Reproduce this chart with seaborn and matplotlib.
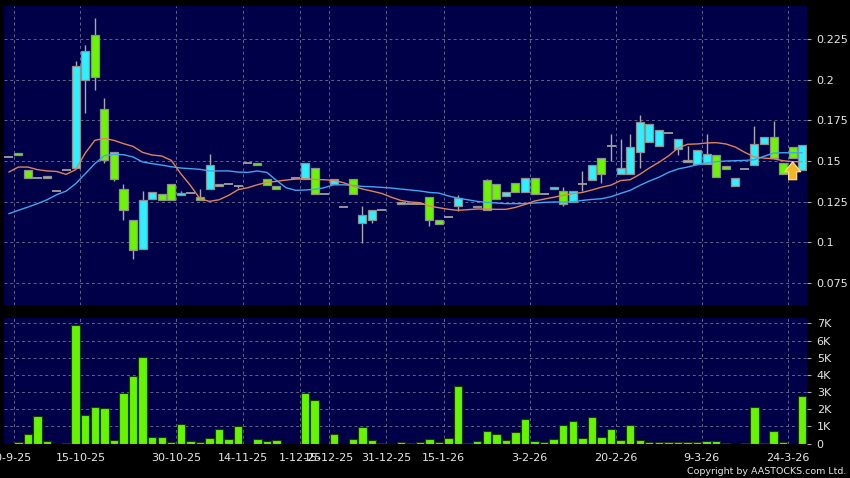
import numpy as np
import pandas as pd
import matplotlib
matplotlib.use("Agg")
import matplotlib.pyplot as plt
import matplotlib.transforms as mtransforms
from matplotlib.patches import Rectangle
import seaborn as sns

sns.set_style("dark")
plt.rcParams["font.family"] = ["DejaVu Sans"]

N = None
# Candles (open, close, high, low); None = no candle
opens = [0.1525, 0.155, 0.1447, 0.1395, 0.1408, 0.1315, 0.1447, 0.1459, 0.2, 0.2275,
         0.1822, 0.1555, 0.1328, 0.1139, 0.0961, 0.1266, 0.1299, 0.136, 0.1293, 0.1303,
         0.1278, 0.133, 0.1344, 0.1361, 0.1344, 0.149, 0.149, 0.1391, 0.1344, N,
         0.1398, 0.1391, 0.1459, 0.1299, 0.1361, 0.1217, 0.1387, 0.1121, 0.1139, 0.1201,
         N, 0.125, 0.1238, 0.1234, 0.1278, 0.1139, 0.1156, 0.1221, N, 0.1225,
         0.1381, 0.136, 0.1287, 0.1367, 0.1311, 0.1397, 0.1299, 0.133, 0.1315, 0.125,
         0.1357, 0.1381, 0.152, 0.159, 0.1422, 0.1422, 0.1553, 0.1619, 0.1594, 0.1675,
         0.1572, 0.1494, 0.148, 0.148, 0.1535, 0.147, 0.1344, 0.1449, 0.1473, 0.1607,
         0.1648, 0.1488, 0.1586, 0.1447]
closes = [0.1525, 0.154, 0.1398, 0.1395, 0.1398, 0.1315, 0.1447, 0.2084, 0.2176, 0.2016,
          0.1504, 0.1391, 0.12, 0.0951, 0.1262, 0.1309, 0.1262, 0.1262, 0.1305, 0.1303,
          0.1258, 0.1477, 0.1361, 0.1361, 0.1344, 0.149, 0.1473, 0.135, 0.1328, N,
          0.1398, 0.149, 0.1299, 0.1299, 0.1387, 0.1217, 0.1299, 0.117, 0.1201, 0.1201,
          N, 0.1238, 0.1238, 0.1234, 0.1139, 0.111, 0.1156, 0.1274, N, 0.1215,
          0.1201, 0.1268, 0.1311, 0.1311, 0.1397, 0.1299, 0.1299, 0.134, 0.1234, 0.1315,
          0.1357, 0.1477, 0.1422, 0.159, 0.1457, 0.1586, 0.1742, 0.1726, 0.1693, 0.1675,
          0.1636, 0.1508, 0.1568, 0.1541, 0.1402, 0.145, 0.1395, 0.1449, 0.1607, 0.1648,
          0.1518, 0.1422, 0.1518, 0.16]
highs = [0.1525, 0.155, 0.1447, 0.1395, 0.1408, 0.1315, 0.1447, 0.2113, 0.2211, 0.2377,
         0.189, 0.1555, 0.136, 0.1139, 0.1315, 0.1309, 0.1299, 0.136, 0.1315, 0.1303,
         0.133, 0.1541, 0.1361, 0.1361, 0.1352, 0.149, 0.149, 0.1391, 0.1344, N,
         0.1398, 0.149, 0.1459, 0.1299, 0.1387, 0.1217, 0.1387, 0.1221, 0.1201, 0.1201,
         N, 0.125, 0.1238, 0.1234, 0.1278, 0.1139, 0.1156, 0.129, N, 0.1225,
         0.139, 0.136, 0.1311, 0.1367, 0.1397, 0.1397, 0.1299, 0.134, 0.134, 0.1315,
         0.144, 0.1477, 0.152, 0.1668, 0.1637, 0.1668, 0.1783, 0.1726, 0.1693, 0.1675,
         0.1636, 0.159, 0.1568, 0.1664, 0.1535, 0.147, 0.1395, 0.1449, 0.1715, 0.1648,
         0.1746, 0.1488, 0.1586, 0.16]
lows = [0.1525, 0.154, 0.1398, 0.1395, 0.1398, 0.1315, 0.1447, 0.1459, 0.1793, 0.1939,
        0.149, 0.138, 0.1139, 0.0899, 0.0961, 0.1266, 0.1262, 0.1262, 0.1293, 0.1303,
        0.1258, 0.133, 0.1344, 0.1361, 0.1336, 0.149, 0.1473, 0.135, 0.1328, N,
        0.1398, 0.1391, 0.1299, 0.1299, 0.1361, 0.1217, 0.1299, 0.0998, 0.112, 0.1201,
        N, 0.1238, 0.1238, 0.1234, 0.1102, 0.111, 0.1156, 0.1192, N, 0.1215,
        0.1201, 0.1268, 0.1287, 0.1311, 0.1311, 0.1299, 0.1299, 0.133, 0.1221, 0.125,
        0.1315, 0.1381, 0.1365, 0.15, 0.1422, 0.1422, 0.1457, 0.1619, 0.1594, 0.1675,
        0.1537, 0.1494, 0.148, 0.148, 0.1402, 0.145, 0.1344, 0.1449, 0.1473, 0.1607,
        0.1518, 0.1422, 0.1518, 0.1447]
# Moving averages
ma_short = [0.1432, 0.1463, 0.1463, 0.1447, 0.1439, 0.1436, 0.1418, 0.1447, 0.1549, 0.1627,
            0.1639, 0.1627, 0.1607, 0.159, 0.1553, 0.1537, 0.1531, 0.1504, 0.1422, 0.135,
            0.1268, 0.1252, 0.1262, 0.1289, 0.1324, 0.1336, 0.1354, 0.1369, 0.1375, 0.1383,
            0.1389, 0.1391, 0.1387, 0.1385, 0.1381, 0.1367, 0.1346, 0.1328, 0.1315, 0.1301,
            0.1278, 0.1258, 0.1248, 0.1244, 0.1223, 0.1213, 0.1203, 0.1197, 0.1201, 0.1205,
            0.1205, 0.1203, 0.1203, 0.1215, 0.1233, 0.1254, 0.1266, 0.1277, 0.1289, 0.1299,
            0.1307, 0.1322, 0.1339, 0.1352, 0.138, 0.1385, 0.1418, 0.1457, 0.1492, 0.1531,
            0.158, 0.1603, 0.1605, 0.1611, 0.1613, 0.1605, 0.1586, 0.1553, 0.1525, 0.1518,
            0.1514, 0.1502, 0.1496, 0.1496]
ma_long = [0.1176, 0.1197, 0.1217, 0.1238, 0.1262, 0.1293, 0.1315, 0.1361, 0.1422, 0.1484,
           0.1533, 0.1541, 0.1539, 0.1525, 0.1494, 0.1484, 0.1475, 0.1465, 0.1457, 0.1453,
           0.1449, 0.1439, 0.1439, 0.1439, 0.1432, 0.143, 0.1439, 0.143, 0.1381, 0.1336,
           0.132, 0.1322, 0.1326, 0.1336, 0.1354, 0.1354, 0.135, 0.1344, 0.1342, 0.1338,
           0.1334, 0.1328, 0.1322, 0.1316, 0.1307, 0.1303, 0.1285, 0.1272, 0.1262, 0.1252,
           0.1246, 0.1242, 0.1238, 0.1238, 0.1238, 0.1242, 0.1246, 0.1248, 0.1248, 0.125,
           0.1258, 0.1264, 0.1268, 0.1281, 0.1301, 0.132, 0.135, 0.1377, 0.14, 0.143,
           0.1451, 0.1463, 0.1477, 0.1488, 0.1496, 0.15, 0.1502, 0.1504, 0.1508, 0.1529,
           0.1549, 0.1551, 0.1551, 0.1551]
# Volume in thousands
volume_k = [0, 0.1, 0.54, 1.6, 0.12, 0, 0.04, 6.9, 1.67, 2.12,
            2.06, 0.19, 2.96, 3.94, 5.03, 0.37, 0.35, 0.06, 1.13, 0.16,
            0.1, 0.31, 0.82, 0.29, 1.0, 0, 0.25, 0.14, 0.23, 0,
            0, 2.96, 2.53, 0, 0.56, 0, 0.29, 0.99, 0.18, 0.02,
            0, 0.08, 0.04, 0.08, 0.25, 0.08, 0.33, 3.35, 0.04, 0.12,
            0.7, 0.54, 0.21, 0.66, 1.4, 0.12, 0.1, 0.29, 1.1, 1.32,
            0.31, 1.52, 0.35, 0.84, 0.19, 1.07, 0.18, 0.08, 0.08, 0.08,
            0.08, 0.08, 0.08, 0.17, 0.13, 0.02, 0, 0.04, 2.15, 0.02,
            0.7, 0.07, 0, 2.75]
tick_pos = [0.5, 7.5, 17.5, 24.5, 30.5, 33.5, 39.5, 45.5, 54.5, 63.5, 72.5, 81.5]
tick_labels = ["30-9-25", "15-10-25", "30-10-25", "14-11-25", "1-12-25", "15-12-25",
               "31-12-25", "15-1-26", "3-2-26", "20-2-26", "9-3-26", "24-3-26"]
price_ticks = [0.075, 0.1, 0.125, 0.15, 0.175, 0.2, 0.225]
price_tick_labels = ["0.075", "0.1", "0.125", "0.15", "0.175", "0.2", "0.225"]
vol_ticks = [0, 1000, 2000, 3000, 4000, 5000, 6000, 7000]
vol_tick_labels = ["0", "1K", "2K", "3K", "4K", "5K", "6K", "7K"]
arrow_index = 82

BG = "#000048"
GRID = "#62628e"
UP = "#2ef0ff"
DOWN = "#6bf500"
EDGE = "#8f8f8f"
TXT = "#e6e6e6"

W, H = 850, 478
fig = plt.figure(figsize=(W / 100, H / 100), dpi=100, facecolor="black")
axp = fig.add_axes([4 / W, 1 - 305 / H, 803 / W, 299 / H])
axv = fig.add_axes([4 / W, 1 - 443.5 / H, 803 / W, 125.5 / H])

n = len(opens)
idx = np.arange(n)

for ax in (axp, axv):
    ax.set_facecolor(BG)
    for s in ax.spines.values():
        s.set_visible(False)
    ax.set_xlim(-0.5, 83.5)
    ax.set_xticks(tick_pos)
    ax.grid(True, color=GRID, linestyle=(0, (3, 3)), linewidth=0.7)
    ax.set_axisbelow(True)
    ax.yaxis.tick_right()
    ax.tick_params(axis="y", colors="#aaaaaa", labelcolor=TXT, labelsize=8,
                   length=3, width=0.8, pad=4, left=False, right=True)

# candles
bw = 0.84
for i in range(n):
    o, c, h, l = opens[i], closes[i], highs[i], lows[i]
    if o is None:
        continue
    axp.vlines(i, l, h, color="#a8a8a8", linewidth=1.0, zorder=2)
    if abs(c - o) < 1e-9:
        axp.hlines(o, i - 0.47, i + 0.47, color="#a0a0a0", linewidth=1.3, zorder=3)
    else:
        col = UP if c > o else DOWN
        axp.add_patch(Rectangle((i - bw / 2, min(o, c)), bw, abs(c - o),
                                facecolor=col, edgecolor=EDGE, linewidth=0.9, zorder=4))

ma_df = pd.DataFrame({"i": idx, "short": ma_short, "long": ma_long})
sns.lineplot(data=ma_df, x="i", y="long", ax=axp, color="#3fa6f0", linewidth=1.0, zorder=5)
sns.lineplot(data=ma_df, x="i", y="short", ax=axp, color="#e0825a", linewidth=1.0, zorder=5)

axp.set_ylim(0.0615, 0.2453)
axp.set_yticks(price_ticks)
axp.set_yticklabels(price_tick_labels)
axp.set_xlabel("")
axp.set_ylabel("")
axp.tick_params(axis="x", bottom=False, labelbottom=False)

axp.annotate("", xy=(arrow_index, 0.1512), xytext=(arrow_index, 0.1368),
             arrowprops=dict(arrowstyle="simple,head_width=0.9,head_length=0.55,tail_width=0.45",
                             fc="#f2b52a", ec="#ffe6a0", lw=0.8, mutation_scale=13),
             zorder=8)

# volume
vol = np.array(volume_k, dtype=float) * 1000
vol[vol <= 0] = np.nan
axv.bar(idx, vol, width=0.88, color="#66f500", edgecolor="#1c3a00", linewidth=0.8, zorder=3)
axv.set_ylim(0, 7320)
axv.set_yticks(vol_ticks)
axv.set_yticklabels(vol_tick_labels)
axv.set_xticklabels(tick_labels)
axv.tick_params(axis="x", colors="#aaaaaa", labelcolor=TXT, labelsize=8, length=3,
                width=0.8, pad=4)
# first label sits slightly left of its gridline, cut by the figure edge
first = axv.get_xticklabels()[0]
first.set_transform(first.get_transform() +
                    mtransforms.ScaledTranslation(-4 / 100, 0, fig.dpi_scale_trans))

fig.text(846 / W, 1 - 472 / H, "Copyright by AASTOCKS.com Ltd.", ha="right", va="center",
         color=TXT, fontsize=6.8)

fig.savefig("out.png", dpi=100, facecolor="black")
